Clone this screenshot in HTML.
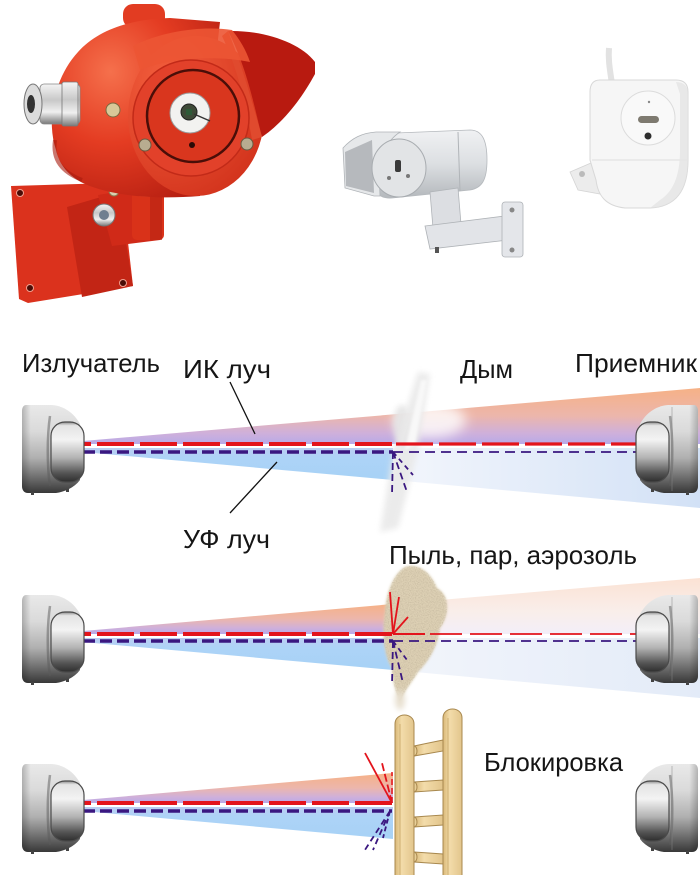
<!DOCTYPE html>
<html><head><meta charset="utf-8"><style>
html,body{margin:0;padding:0;background:#fff;}
svg{display:block}
text{font-family:"Liberation Sans",sans-serif;font-size:26px;fill:#151515;}
</style></head><body>
<svg width="700" height="875" viewBox="0 0 700 875" xmlns="http://www.w3.org/2000/svg">
<defs>
 <linearGradient id="gBody" x1="0" y1="0" x2="0" y2="1">
  <stop offset="0" stop-color="#e9e9e9"/><stop offset=".3" stop-color="#dadada"/><stop offset=".6" stop-color="#b0b0b0"/><stop offset=".85" stop-color="#666"/><stop offset="1" stop-color="#383838"/>
 </linearGradient>
 <linearGradient id="gEdge" x1="0" y1="0" x2="1" y2="0">
  <stop offset="0" stop-color="#000" stop-opacity=".22"/><stop offset=".15" stop-color="#000" stop-opacity="0"/><stop offset="1" stop-color="#000" stop-opacity="0"/>
 </linearGradient>
 <linearGradient id="gDome" x1="0" y1="0" x2="0" y2="1">
  <stop offset="0" stop-color="#8a8a8a"/><stop offset=".06" stop-color="#e4e4e4"/><stop offset=".3" stop-color="#f3f3f3"/><stop offset=".6" stop-color="#b2b2b2"/><stop offset=".85" stop-color="#555"/><stop offset="1" stop-color="#2e2e2e"/>
 </linearGradient>
 <linearGradient id="gUp" x1="0" y1="0" x2="0" y2="1">
  <stop offset="0" stop-color="#f6b186"/><stop offset=".5" stop-color="#ecb6ac"/><stop offset=".8" stop-color="#cfb0da"/><stop offset="1" stop-color="#b8aae8"/>
 </linearGradient>
 <linearGradient id="gLo" x1="0" y1="0" x2="0" y2="1">
  <stop offset="0" stop-color="#bccdf2"/><stop offset=".3" stop-color="#add3f7"/><stop offset="1" stop-color="#a7d2f6"/>
 </linearGradient>
 <linearGradient id="gLoR" x1="0" y1="0" x2="1" y2="0">
  <stop offset="0" stop-color="#f3f6fc"/><stop offset="1" stop-color="#d2e1f6"/>
 </linearGradient>
 <linearGradient id="gUpPale" x1="0" y1="0" x2="0" y2="1">
  <stop offset="0" stop-color="#fbe2d4"/><stop offset=".6" stop-color="#f9eeea"/><stop offset="1" stop-color="#f3eef8"/>
 </linearGradient>
 <linearGradient id="gLoPale" x1="0" y1="0" x2="1" y2="0">
  <stop offset="0" stop-color="#f2f5fb"/><stop offset="1" stop-color="#e3ebf8"/>
 </linearGradient>
 <radialGradient id="gRedBody" cx=".35" cy=".3" r=".8">
  <stop offset="0" stop-color="#f5704c"/><stop offset=".5" stop-color="#e43c22"/><stop offset="1" stop-color="#b82012"/>
 </radialGradient>
 <radialGradient id="gRedFront" cx=".3" cy=".3" r=".85">
  <stop offset="0" stop-color="#f4603e"/><stop offset="1" stop-color="#d0301a"/>
 </radialGradient>
 <linearGradient id="gSilver" x1="0" y1="0" x2="0" y2="1">
  <stop offset="0" stop-color="#f4f4f4"/><stop offset=".4" stop-color="#c8c8c8"/><stop offset=".7" stop-color="#f0f0f0"/><stop offset="1" stop-color="#7a7a7a"/>
 </linearGradient>
 <linearGradient id="gGray" x1="0" y1="0" x2="0" y2="1">
  <stop offset="0" stop-color="#f0f1f3"/><stop offset=".5" stop-color="#dcdfe2"/><stop offset="1" stop-color="#b4b8bc"/>
 </linearGradient>
 <linearGradient id="gWood" x1="0" y1="0" x2="1" y2="0">
  <stop offset="0" stop-color="#d9b878"/><stop offset=".35" stop-color="#f3dcaa"/><stop offset="1" stop-color="#e2c58c"/>
 </linearGradient>
 <filter id="blur3" x="-50%" y="-50%" width="200%" height="200%"><feGaussianBlur stdDeviation="3"/></filter>
 <filter id="blur6" x="-50%" y="-50%" width="200%" height="200%"><feGaussianBlur stdDeviation="6"/></filter>
 <filter id="blur1" x="-50%" y="-50%" width="200%" height="200%"><feGaussianBlur stdDeviation="1.2"/></filter>
 <filter id="grain" x="0" y="0" width="100%" height="100%">
  <feTurbulence type="fractalNoise" baseFrequency="0.85" numOctaves="2" seed="3" result="n"/>
  <feColorMatrix in="n" type="matrix" values="0 0 0 0 0.58  0 0 0 0 0.5  0 0 0 0 0.36  0 0 0 -2.2 1.35" result="s"/>
  <feComposite in="s" in2="SourceGraphic" operator="in"/>
 </filter>

 <g id="dev">
  <path d="M26,-39 L52,-39 C64,-38 74,-31 80,-20 L80,36 C74,44 64,48 56,49 L28,49 C24,49 22,46 22,42 L22,-33 C22,-37 24,-39 26,-39 Z" fill="url(#gBody)"/>
  <path d="M26,-39 L52,-39 C64,-38 74,-31 80,-20 L80,36 C74,44 64,48 56,49 L28,49 C24,49 22,46 22,42 L22,-33 C22,-37 24,-39 26,-39 Z" fill="url(#gEdge)"/>
  <path d="M50,-28 C47,-8 47,22 50,42" stroke="#5a5a5a" stroke-width="2.5" fill="none" opacity=".5"/>
  <rect x="51" y="-22" width="33" height="60" rx="14" fill="url(#gDome)" stroke="#4a4a4a" stroke-width="1.2"/>
  <rect x="31" y="48" width="3" height="3" fill="#444"/>
  <rect x="66" y="45" width="3" height="3" fill="#444"/>
 </g>
</defs>

<rect width="700" height="875" fill="#fff"/>

<!-- ===== Red flame detector ===== -->
<g>
 <polygon points="11,186 112,183 122,190 133,286 28,303 19,299" fill="#db321d"/>
 <polygon points="67,207 118,192 133,286 82,297" fill="#c22515"/>
 <circle cx="20" cy="193" r="3.5" fill="#4a0c06" stroke="#f0a090" stroke-width="1"/>
 <circle cx="30" cy="288" r="3.5" fill="#4a0c06" stroke="#f0a090" stroke-width="1"/>
 <circle cx="123" cy="283" r="3.5" fill="#4a0c06" stroke="#f0a090" stroke-width="1"/>
 <polygon points="98,195 140,188 160,240 112,246" fill="#d02a18"/>
 <rect x="132" y="190" width="32" height="50" rx="5" fill="#d93219"/>
 <rect x="150" y="190" width="12" height="50" fill="#b52212" opacity=".6"/>
 <ellipse cx="148" cy="192" rx="16" ry="5" fill="#e84a2c"/>
 <circle cx="104" cy="215" r="11" fill="url(#gSilver)" stroke="#777"/>
 <circle cx="104" cy="215" r="5" fill="#6f7f90"/>
 <circle cx="114" cy="191" r="5" fill="#d8d0b0" stroke="#8a7a50"/>
 <rect x="123" y="4" width="42" height="24" rx="10" fill="#e23c22"/>
 <path d="M56,150 C46,120 54,78 78,52 C98,30 130,19 170,18 L220,22 L200,196 C150,200 110,195 85,184 C68,176 59,164 56,150 Z" fill="url(#gRedBody)"/>
 <path d="M55,140 C52,160 62,172 82,180" stroke="#a81a0e" stroke-width="4" fill="none" opacity=".6"/>
 <ellipse cx="196" cy="116" rx="68" ry="80" fill="url(#gRedFront)"/>
 <path d="M228,31 C262,30 300,42 315,62 L315,74 C302,98 284,122 262,137 C255,110 248,70 228,31 Z" fill="#b81a10"/>
 <path d="M228,31 C240,60 252,100 262,137 L252,140 C246,105 238,70 222,36 Z" fill="#e04a2e"/>
 <path d="M133,46 C165,30 205,26 232,30 C240,40 246,50 250,62 C215,55 170,58 140,70 Z" fill="#ec5534" opacity=".9"/>
 <circle cx="191" cy="118" r="58" fill="#e2412a" stroke="#c22a18" stroke-width="1.5"/>
 <circle cx="193" cy="116" r="46" fill="#d9361e" stroke="#4a0e08" stroke-width="2.5"/>
 <circle cx="190" cy="113" r="20" fill="#f2f2f0" stroke="#9a9a9a"/>
 <circle cx="189" cy="112" r="8" fill="#3e4a38" stroke="#222"/>
 <rect x="186" y="109" width="6" height="6" fill="#2e5a38"/>
 <line x1="194" y1="114" x2="210" y2="121" stroke="#333" stroke-width="1.5"/>
 <circle cx="192" cy="145" r="3" fill="#2a0a06"/>
 <circle cx="145" cy="145" r="6" fill="#b8ac90" stroke="#6a5a40"/>
 <circle cx="247" cy="144" r="6" fill="#b8ac90" stroke="#6a5a40"/>
 <circle cx="113" cy="110" r="7" fill="#d8c898" stroke="#7a6a40"/>
 <rect x="40" y="84" width="40" height="40" rx="4" fill="url(#gSilver)" stroke="#888" stroke-width=".8"/>
 <rect x="62" y="82" width="16" height="44" rx="2" fill="url(#gSilver)" stroke="#777" stroke-width=".8"/>
 <ellipse cx="33" cy="104" rx="9" ry="20" fill="#dcdcdc" stroke="#777"/>
 <ellipse cx="31" cy="104" rx="4" ry="9" fill="#333"/>
</g>

<!-- ===== Gray camera-type detector ===== -->
<g>
 <path d="M372,134 L470,130 C482,130 487,140 487,160 C487,180 482,188 470,190 L392,198 C378,199 370,190 370,170 Z" fill="url(#gGray)" stroke="#b5b9bd" stroke-width=".8"/>
 <line x1="458" y1="132" x2="460" y2="191" stroke="#b0b4b8" stroke-width="1"/>
 <path d="M343,148 C352,138 362,133 376,132 L400,132 C385,142 378,158 380,196 L374,196 L345,188 Z" fill="#e6e8ea" stroke="#b0b4b8" stroke-width=".8"/>
 <path d="M345,152 L372,140 L374,193 L346,186 Z" fill="#a6aaae" opacity=".75"/>
 <ellipse cx="399" cy="168" rx="27" ry="29" fill="#e2e4e6" stroke="#a8acb0"/>
 <rect x="395" y="160" width="6" height="12" rx="2" fill="#3a3a3a"/>
 <circle cx="389" cy="178" r="2" fill="#777"/>
 <circle cx="408" cy="176" r="2" fill="#777"/>
 <polygon points="430,192 458,188 462,236 434,240" fill="#dcdee2" stroke="#b0b4b8" stroke-width=".8"/>
 <polygon points="425,226 505,216 508,240 430,249" fill="#e2e4e8" stroke="#aeb2b6" stroke-width=".8"/>
 <rect x="502" y="202" width="21" height="55" rx="3" fill="#e4e6ea" stroke="#aeb2b6" stroke-width=".8"/>
 <circle cx="512" cy="210" r="2.5" fill="#888"/>
 <circle cx="512" cy="250" r="2.5" fill="#888"/>
 <rect x="435" y="247" width="4" height="6" fill="#555"/>
</g>

<!-- ===== White detector ===== -->
<g>
 <path d="M609,48 C608,60 610,70 612,84" stroke="#e2e2e2" stroke-width="6" fill="none"/>
 <path d="M570,172 L598,160 L600,194 L578,190 Z" fill="#ececec" stroke="#d4d4d4" stroke-width=".8"/>
 <circle cx="582" cy="174" r="3" fill="#bbb"/>
 <path d="M600,80 L676,80 Q688,80 688,92 L688,160 C688,190 676,207 650,208 L625,208 C606,206 598,196 596,180 L590,160 L590,92 Q590,80 600,80 Z" fill="#f6f6f6" stroke="#d8d8d8" stroke-width="1"/>
 <path d="M676,82 Q688,82 688,94 L688,160 C688,190 676,207 650,208 L660,200 C676,190 680,170 680,150 L680,94 Z" fill="#e2e2e2" opacity=".7"/>
 <line x1="592" y1="160" x2="688" y2="160" stroke="#e4e4e4" stroke-width="1.2"/>
 <circle cx="648" cy="118" r="27" fill="#f9f9f9" stroke="#dcdcdc"/>
 <rect x="638" y="116" width="21" height="7" rx="3.5" fill="#7e7a70"/>
 <circle cx="648" cy="136" r="3.5" fill="#2e2e2e"/>
 <circle cx="649" cy="102" r="1.2" fill="#888"/>
</g>

<!-- ===== Labels row 1 ===== -->
<text x="22" y="372" textLength="138" lengthAdjust="spacingAndGlyphs">Излучатель</text>
<text x="183" y="378" textLength="88" lengthAdjust="spacingAndGlyphs">ИК луч</text>
<text x="460" y="378" textLength="53" lengthAdjust="spacingAndGlyphs">Дым</text>
<text x="575" y="372" textLength="122" lengthAdjust="spacingAndGlyphs">Приемник</text>

<!-- ===== Row 1 ===== -->
<g transform="translate(0,444)">
 <polygon points="83,-3 700,-56 700,0 83,0" fill="url(#gUp)"/>
 <polygon points="83,4 393,4 393,36 83,8" fill="url(#gLo)"/>
 <polygon points="393,4 700,4 700,64 393,36" fill="url(#gLoR)"/>
</g>
<!-- smoke -->
<g>
 <ellipse cx="430" cy="420" rx="36" ry="18" fill="#ffffff" opacity=".8" filter="url(#blur6)"/>
 <ellipse cx="402" cy="425" rx="9" ry="20" fill="#e4e4e4" opacity=".9" filter="url(#blur3)"/>
 <polygon points="418,372 430,374 418,450 398,528 380,532 393,452" fill="#e9e9e9" opacity=".9" filter="url(#blur3)"/>
 <polygon points="421,380 427,380 415,445 405,450" fill="#f8f8f8" filter="url(#blur1)"/>
</g>
<g transform="translate(0,444)">
 <line x1="83" y1="0" x2="393" y2="0" stroke="#e3141c" stroke-width="4" stroke-dasharray="37 6" stroke-dashoffset="29"/>
 <line x1="396" y1="0" x2="640" y2="0" stroke="#e3141c" stroke-width="3.2" stroke-dasharray="37 6"/>
 <line x1="83" y1="8" x2="393" y2="8" stroke="#3a1780" stroke-width="3.5" stroke-dasharray="12 5"/>
 <line x1="393" y1="8" x2="640" y2="8" stroke="#3a1780" stroke-width="1.8" stroke-dasharray="10 6"/>
 <line x1="393" y1="8" x2="392" y2="51" stroke="#3a1780" stroke-width="1.8" stroke-dasharray="7 4"/>
 <line x1="393" y1="8" x2="407" y2="48" stroke="#3a1780" stroke-width="1.8" stroke-dasharray="7 4"/>
 <line x1="393" y1="8" x2="413" y2="31" stroke="#3a1780" stroke-width="1.8" stroke-dasharray="5 4"/>
 <use href="#dev"/>
 <g transform="translate(720,0) scale(-1,1)"><use href="#dev"/><line x1="48" y1="-37" x2="48" y2="47" stroke="#888" stroke-width="1" opacity=".5"/></g>
</g>
<line x1="230" y1="382" x2="255" y2="434" stroke="#111" stroke-width="1.3"/>
<line x1="230" y1="513" x2="277" y2="462" stroke="#111" stroke-width="1.3"/>
<text x="183" y="548" textLength="87" lengthAdjust="spacingAndGlyphs">УФ луч</text>

<!-- ===== Row 2 ===== -->
<text x="389" y="564" textLength="248" lengthAdjust="spacingAndGlyphs">Пыль, пар, аэрозоль</text>
<g transform="translate(0,634)">
 <polygon points="83,-3 393,-30 393,0 83,0" fill="url(#gUp)"/>
 <polygon points="393,-30 700,-56 700,0 393,0" fill="url(#gUpPale)"/>
 <polygon points="83,4 393,4 393,36 83,8" fill="url(#gLo)"/>
 <polygon points="393,4 700,4 700,64 393,36" fill="url(#gLoPale)"/>
</g>
<path d="M405,567 C420,562 432,575 437,588 C450,595 450,615 440,628 C438,645 430,660 418,672 C410,685 405,690 400,702 C395,690 392,680 392,668 C383,655 382,630 385,612 C386,595 392,575 405,567 Z" fill="#ddd0b4" filter="url(#blur1)"/>
<path d="M405,567 C420,562 432,575 437,588 C450,595 450,615 440,628 C438,645 430,660 418,672 C410,685 405,690 400,702 C395,690 392,680 392,668 C383,655 382,630 385,612 C386,595 392,575 405,567 Z" fill="#000" filter="url(#grain)"/>
<ellipse cx="400" cy="700" rx="5" ry="10" fill="#e8e0d0" filter="url(#blur3)"/>
<g transform="translate(0,634)">
 <line x1="83" y1="0" x2="393" y2="0" stroke="#e3141c" stroke-width="4" stroke-dasharray="37 6" stroke-dashoffset="29"/>
 <line x1="393" y1="0" x2="425" y2="0" stroke="#e3141c" stroke-width="2"/>
 <line x1="430" y1="0" x2="640" y2="0" stroke="#e3141c" stroke-width="1.8" stroke-dasharray="32 8"/>
 <line x1="83" y1="7" x2="393" y2="7" stroke="#3a1780" stroke-width="3.5" stroke-dasharray="12 5"/>
 <line x1="393" y1="7" x2="640" y2="7" stroke="#3a1780" stroke-width="1.8" stroke-dasharray="10 6"/>
 <line x1="393" y1="0" x2="390" y2="-42" stroke="#e3141c" stroke-width="1.8"/>
 <line x1="393" y1="0" x2="399" y2="-37" stroke="#e3141c" stroke-width="1.8"/>
 <line x1="393" y1="0" x2="408" y2="-17" stroke="#e3141c" stroke-width="1.8"/>
 <line x1="393" y1="7" x2="392" y2="51" stroke="#3a1780" stroke-width="1.8" stroke-dasharray="7 4"/>
 <line x1="393" y1="7" x2="403" y2="49" stroke="#3a1780" stroke-width="1.8" stroke-dasharray="7 4"/>
 <line x1="393" y1="7" x2="407" y2="26" stroke="#3a1780" stroke-width="1.8" stroke-dasharray="5 4"/>
 <use href="#dev"/>
 <g transform="translate(720,0) scale(-1,1)"><use href="#dev"/><line x1="48" y1="-37" x2="48" y2="47" stroke="#888" stroke-width="1" opacity=".5"/></g>
</g>

<!-- ===== Row 3 ===== -->
<text x="484" y="771" textLength="139" lengthAdjust="spacingAndGlyphs">Блокировка</text>
<g transform="translate(0,803)">
 <polygon points="83,-3 393,-30 393,0 83,0" fill="url(#gUp)"/>
 <polygon points="83,4 393,4 393,36 83,8" fill="url(#gLo)"/>
 <line x1="83" y1="0" x2="392" y2="0" stroke="#e3141c" stroke-width="4" stroke-dasharray="37 6" stroke-dashoffset="29"/>
 <line x1="83" y1="8" x2="392" y2="8" stroke="#3a1780" stroke-width="3.5" stroke-dasharray="12 5"/>
 <line x1="392" y1="0" x2="365" y2="-50" stroke="#e3141c" stroke-width="1.8"/>
 <line x1="392" y1="0" x2="382" y2="-40" stroke="#e3141c" stroke-width="1.8" stroke-dasharray="8 3"/>
 <line x1="392" y1="0" x2="392" y2="-31" stroke="#e3141c" stroke-width="1.5" stroke-dasharray="6 3"/>
 <line x1="390" y1="8" x2="363" y2="50" stroke="#3a1780" stroke-width="1.8" stroke-dasharray="6 4"/>
 <line x1="390" y1="8" x2="373" y2="47" stroke="#3a1780" stroke-width="1.8" stroke-dasharray="6 4"/>
 <line x1="390" y1="8" x2="383" y2="35" stroke="#3a1780" stroke-width="1.8" stroke-dasharray="5 3"/>
 <use href="#dev"/>
 <g transform="translate(720,0) scale(-1,1)"><use href="#dev"/><line x1="48" y1="-37" x2="48" y2="47" stroke="#888" stroke-width="1" opacity=".5"/></g>
</g>

<!-- ladder -->
<g stroke="#a8884e" stroke-width="1">
 <path d="M414,746 L443,740 L443,751 L414,756 Z" fill="url(#gWood)"/>
 <path d="M414,782 L443,780 L443,790 L414,792 Z" fill="url(#gWood)"/>
 <path d="M414,817 L443,815 L443,825 L414,827 Z" fill="url(#gWood)"/>
 <path d="M414,852 L443,854 L443,864 L414,862 Z" fill="url(#gWood)"/>
 <ellipse cx="414" cy="751" rx="3" ry="5" fill="#e8cf98"/>
 <ellipse cx="414" cy="787" rx="3" ry="5" fill="#e8cf98"/>
 <ellipse cx="414" cy="822" rx="3" ry="5" fill="#e8cf98"/>
 <ellipse cx="414" cy="857" rx="3" ry="5" fill="#e8cf98"/>
 <path d="M395,876 L395,724 C395,712 414,712 414,724 L414,876" fill="url(#gWood)"/>
 <path d="M443,876 L443,718 C443,706 462,706 462,718 L462,876" fill="url(#gWood)"/>
 <line x1="400" y1="724" x2="400" y2="876" stroke="#c9a86a" stroke-width=".8"/>
 <line x1="448" y1="718" x2="448" y2="876" stroke="#c9a86a" stroke-width=".8"/>
</g>
</svg>
</body></html>
